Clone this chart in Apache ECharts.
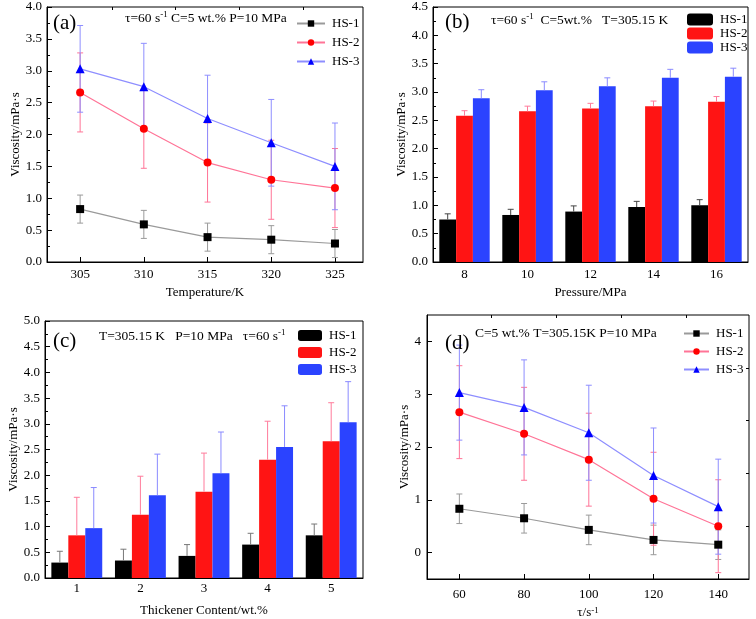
<!DOCTYPE html>
<html>
<head>
<meta charset="utf-8">
<script src="https://cdn.jsdelivr.net/npm/echarts@6/dist/echarts.min.js"></script>
<style>
  html, body { margin: 0; padding: 0; background: #fff; }
  #chart { width: 756px; height: 619px; }
</style>
</head>
<body>
<div id="chart"></div>
<script>
// (a) viscosity vs temperature
const tempK = [305, 310, 315, 320, 325];
const tempHS1 = [0.83, 0.59, 0.39, 0.35, 0.29];
const tempHS2 = [2.66, 2.09, 1.56, 1.29, 1.16];
const tempHS3 = [3.03, 2.75, 2.25, 1.87, 1.50];
const tempErr1 = [0.22, 0.22, 0.22, 0.22, 0.22];
const tempErr2 = [0.62, 0.62, 0.62, 0.62, 0.62];
const tempErr3 = [0.68, 0.68, 0.68, 0.68, 0.68];

// (b) viscosity vs pressure
const pressure = ["8", "10", "12", "14", "16"];
const presHS1 = [0.75, 0.83, 0.89, 0.97, 1.0];
const presHS2 = [2.58, 2.66, 2.71, 2.75, 2.83];
const presHS3 = [2.89, 3.03, 3.10, 3.25, 3.27];
const presErr1 = [0.1, 0.1, 0.1, 0.1, 0.1];
const presErr2 = [0.09, 0.09, 0.09, 0.09, 0.09];
const presErr3 = [0.15, 0.15, 0.15, 0.15, 0.15];

// (c) viscosity vs thickener content
const content = ["1", "2", "3", "4", "5"];
const contHS1 = [0.30, 0.34, 0.43, 0.65, 0.83];
const contHS2 = [0.83, 1.23, 1.68, 2.30, 2.66];
const contHS3 = [0.97, 1.61, 2.04, 2.55, 3.03];
const contErr1 = [0.22, 0.22, 0.22, 0.22, 0.22];
const contErr2 = [0.74, 0.75, 0.75, 0.75, 0.75];
const contErr3 = [0.79, 0.80, 0.80, 0.80, 0.79];

// (d) viscosity vs shear rate
const shear = [60, 80, 100, 120, 140];
const shearHS1 = [0.83, 0.65, 0.43, 0.24, 0.15];
const shearHS2 = [2.66, 2.25, 1.76, 1.02, 0.50];
const shearHS3 = [3.03, 2.75, 2.27, 1.46, 0.87];
const shearErr1 = [0.28, 0.28, 0.28, 0.28, 0.28];
const shearErr2 = [0.88, 0.88, 0.88, 0.88, 0.88];
const shearErr3 = [0.90, 0.90, 0.90, 0.90, 0.90];

const tempMinor = [307.5, 312.5, 317.5, 322.5];
const shearMinor = [70, 90, 110, 130];
const shearTicksY = [0, 1, 2, 3, 4];
const shearMinorY = [0.5, 1.5, 2.5, 3.5];

const FONT = "Liberation Serif";
const LINE_COLORS = ["#9a9a9a", "#ff7497", "#8e8eff"];
const MARK_COLORS = ["#000000", "#ff0000", "#0000ff"];
const BAR_COLORS = ["#000000", "#ff1414", "#2b43ff"];
const BAR_ERR_COLORS = ["#444444", "#ff7b9b", "#8a8aff"];
const SYMBOLS = ["rect", "circle", "triangle"];
const BAR_GAP = 0.2;

const chart = echarts.init(document.getElementById("chart"));

const txt = { fontFamily: FONT, fontSize: 13, color: "#000", fontWeight: "normal" };

function grid(left, top, width, height) {
  return {
    left, top, width, height,
    show: true, borderColor: "#000", borderWidth: 1,
    backgroundColor: "transparent",
    outerBoundsMode: "none",
  };
}

function valueAxisX(gridIndex, min, max, ticks, name, nameGap, labelMargin) {
  return {
    type: "value", gridIndex, min, max,
    name, nameLocation: "middle", nameGap,
    nameTextStyle: Object.assign({}, txt, { rich: { n: txt, s: { fontFamily: FONT, fontSize: 9, verticalAlign: "top", lineHeight: 10 } } }),
    axisLine: { onZero: false, lineStyle: { color: "#000", width: 1 } },
    axisTick: { inside: true, length: 5, customValues: ticks, lineStyle: { color: "#000" } },
    axisLabel: { customValues: ticks, margin: labelMargin, fontFamily: FONT, fontSize: 13, color: "#000" },
    splitLine: { show: false },
  };
}

function minorAxisX(gridIndex, min, max, ticks) {
  return {
    type: "value", gridIndex, min, max,
    axisLine: { show: false, onZero: false },
    axisTick: { inside: true, length: 3, customValues: ticks, lineStyle: { color: "#000" } },
    axisLabel: { show: false },
    splitLine: { show: false },
  };
}

function catAxisX(gridIndex, data, name, nameGap, labelMargin) {
  return {
    type: "category", gridIndex, data,
    name, nameLocation: "middle", nameGap, nameTextStyle: txt,
    axisLine: { onZero: false, lineStyle: { color: "#000", width: 1 } },
    axisTick: { inside: true, length: 5, alignWithLabel: true, lineStyle: { color: "#000" } },
    axisLabel: { margin: labelMargin, fontFamily: FONT, fontSize: 13, color: "#000" },
    splitLine: { show: false },
  };
}

function catMinorX(gridIndex, data) {
  return {
    type: "category", gridIndex, data,
    axisLine: { show: false, onZero: false },
    axisTick: { inside: true, length: 3, lineStyle: { color: "#000" } },
    axisLabel: { show: false },
    splitLine: { show: false },
  };
}

function valueAxisY(gridIndex, min, max, interval, nameGap, labelMargin) {
  return {
    type: "value", gridIndex, min, max, interval,
    name: "Viscosity/mPa·s", nameLocation: "middle", nameGap, nameTextStyle: txt,
    axisLine: { show: true, onZero: false, lineStyle: { color: "#000", width: 1 } },
    axisTick: { show: true, inside: true, length: 5, lineStyle: { color: "#000" } },
    minorTick: { show: true, splitNumber: 2, length: 3, lineStyle: { color: "#000" } },
    axisLabel: { margin: labelMargin, fontFamily: FONT, fontSize: 13, color: "#000", formatter: (v) => v.toFixed(1) },
    splitLine: { show: false },
  };
}

// error bars drawn through the axes' own coordinate mapping
function errorSeries(name, xAxisIndex, yAxisIndex, xs, ys, errs, color, barIndex, upOnly, z) {
  return {
    name, type: "custom", xAxisIndex, yAxisIndex, z: z || 1,
    encode: { x: 0, y: 1 },
    data: xs.map((x, i) => [x, ys[i], errs[i]]),
    renderItem(params, api) {
      const x = api.value(0);
      const y = api.value(1);
      const e = api.value(2);
      let dx = 0;
      if (barIndex != null) {
        const band = api.size([1, 0])[0];
        const bw = (band * (1 - BAR_GAP)) / 3;
        dx = (barIndex - 1) * bw;
      }
      const top = api.coord([x, y + e]);
      const bot = api.coord([x, upOnly ? y : y - e]);
      const cx = top[0] + dx;
      const half = 3;
      const style = { stroke: color, lineWidth: 1 };
      const children = [
        { type: "line", shape: { x1: cx, y1: top[1], x2: cx, y2: bot[1] }, style },
        { type: "line", shape: { x1: cx - half, y1: top[1], x2: cx + half, y2: top[1] }, style },
      ];
      if (!upOnly) {
        children.push({ type: "line", shape: { x1: cx - half, y1: bot[1], x2: cx + half, y2: bot[1] }, style });
      }
      return { type: "group", children };
    },
  };
}

function lineSeries(name, xAxisIndex, yAxisIndex, xs, ys, k) {
  return {
    name, type: "line", xAxisIndex, yAxisIndex, z: 3,
    data: xs.map((x, i) => [x, ys[i]]),
    symbol: SYMBOLS[k], symbolSize: k === 2 ? 9 : 8,
    lineStyle: { color: LINE_COLORS[k], width: 1.2 },
    itemStyle: { color: MARK_COLORS[k] },
  };
}

function barSeries(name, xAxisIndex, yAxisIndex, ys, k) {
  return {
    name, type: "bar", xAxisIndex, yAxisIndex, z: 2,
    data: ys, barGap: "0%", barCategoryGap: BAR_GAP * 100 + "%",
    itemStyle: { color: BAR_COLORS[k] },
  };
}

function legend(left, top, names, itemWidth, itemHeight, itemGap) {
  return {
    left, top, orient: "vertical", padding: 0,
    itemWidth, itemHeight, itemGap, selectedMode: false,
    data: names,
    formatter: (n) => n.slice(0, 4),
    textStyle: { fontFamily: FONT, fontSize: 13, color: "#000", padding: [0, 0, 0, 2] },
  };
}

const rich = {
  n: { fontFamily: FONT, fontSize: 13.5, fontWeight: "normal", color: "#000", lineHeight: 16 },
  s: { fontFamily: FONT, fontSize: 9, fontWeight: "normal", color: "#000", lineHeight: 10, verticalAlign: "top" },
  p: { fontFamily: FONT, fontSize: 21, fontWeight: "normal", color: "#000" },
};

function note(text, left, top) {
  return { text, left, top, padding: 0, textStyle: { fontWeight: "normal", rich } };
}

const namesA = ["HS-1", "HS-2", "HS-3"];
const namesB = ["HS-1 b", "HS-2 b", "HS-3 b"];
const namesC = ["HS-1 c", "HS-2 c", "HS-3 c"];
const namesD = ["HS-1 d", "HS-2 d", "HS-3 d"];

const option = {
  backgroundColor: "#fff",
  animation: false,
  title: [
    note("{p|(a)}", 53, 13),
    note("{n|τ=60 s}{s|-1}{n| C=5 wt.% P=10 MPa}", 125, 10),
    note("{p|(b)}", 445, 12),
    note("{n|τ=60 s}{s|-1}{n|  C=5wt.%   T=305.15 K}", 491, 12),
    note("{p|(c)}", 53, 331),
    note("{n|T=305.15 K   P=10 MPa   τ=60 s}{s|-1}", 99, 328),
    note("{p|(d)}", 445, 333),
    note("{n|C=5 wt.% T=305.15K P=10 MPa}", 475, 325),
  ],
  legend: [
    legend(296, 17, namesA, 28, 8, 6),
    legend(687, 13, namesB, 26, 12, 1),
    legend(298, 329, namesC, 24, 11, 4),
    legend(683, 327, namesD, 25, 8, 5),
  ],
  grid: [
    grid(47, 7, 316, 255),
    grid(433, 7, 315, 255),
    grid(45, 321, 318, 257),
    grid(427, 315, 322, 264),
  ],
  xAxis: [
    valueAxisX(0, 302.4, 327.2, tempK, "Temperature/K", 24, 6),
    minorAxisX(0, 302.4, 327.2, tempMinor),
    catAxisX(1, pressure, "Pressure/MPa", 24, 6),
    catMinorX(1, pressure),
    catAxisX(2, content, "Thickener Content/wt.%", 26, 4),
    catMinorX(2, content),
    valueAxisX(3, 50, 149.5, shear, "{n|τ/s}{s|-1}", 27, 9),
    minorAxisX(3, 50, 149.5, shearMinor),
  ],
  yAxis: [
    valueAxisY(0, 0, 4, 0.5, 19, 5),
    valueAxisY(1, 0, 4.5, 0.5, 19, 5),
    valueAxisY(2, 0, 5, 0.5, 23, 5),
    Object.assign(valueAxisY(3, -0.5, 4.5, 0.5, 12, 6), {
      axisTick: { show: true, inside: true, length: 5, customValues: shearTicksY, lineStyle: { color: "#000" } },
      minorTick: { show: false },
      axisLabel: { customValues: shearTicksY, margin: 6, fontFamily: FONT, fontSize: 13, color: "#000", formatter: (v) => String(v) },
    }),
    {
      type: "value", gridIndex: 3, min: -0.5, max: 4.5,
      axisLine: { show: false, onZero: false },
      axisTick: { show: true, inside: true, length: 3, customValues: shearMinorY, lineStyle: { color: "#000" } },
      axisLabel: { show: false },
      splitLine: { show: false },
    },
  ],
  series: [
    // (a)
    errorSeries("errA1", 0, 0, tempK, tempHS1, tempErr1, LINE_COLORS[0]),
    errorSeries("errA2", 0, 0, tempK, tempHS2, tempErr2, LINE_COLORS[1]),
    errorSeries("errA3", 0, 0, tempK, tempHS3, tempErr3, LINE_COLORS[2]),
    lineSeries(namesA[0], 0, 0, tempK, tempHS1, 0),
    lineSeries(namesA[1], 0, 0, tempK, tempHS2, 1),
    lineSeries(namesA[2], 0, 0, tempK, tempHS3, 2),
    // (b)
    barSeries(namesB[0], 2, 1, presHS1, 0),
    barSeries(namesB[1], 2, 1, presHS2, 1),
    barSeries(namesB[2], 2, 1, presHS3, 2),
    errorSeries("errB1", 2, 1, pressure, presHS1, presErr1, BAR_ERR_COLORS[0], 0, true, 3),
    errorSeries("errB2", 2, 1, pressure, presHS2, presErr2, BAR_ERR_COLORS[1], 1, true, 3),
    errorSeries("errB3", 2, 1, pressure, presHS3, presErr3, BAR_ERR_COLORS[2], 2, true, 3),
    // (c)
    barSeries(namesC[0], 4, 2, contHS1, 0),
    barSeries(namesC[1], 4, 2, contHS2, 1),
    barSeries(namesC[2], 4, 2, contHS3, 2),
    errorSeries("errC1", 4, 2, content, contHS1, contErr1, "#777777", 0, true, 3),
    errorSeries("errC2", 4, 2, content, contHS2, contErr2, BAR_ERR_COLORS[1], 1, true, 3),
    errorSeries("errC3", 4, 2, content, contHS3, contErr3, BAR_ERR_COLORS[2], 2, true, 3),
    // (d)
    errorSeries("errD1", 6, 3, shear, shearHS1, shearErr1, LINE_COLORS[0]),
    errorSeries("errD2", 6, 3, shear, shearHS2, shearErr2, LINE_COLORS[1]),
    errorSeries("errD3", 6, 3, shear, shearHS3, shearErr3, LINE_COLORS[2]),
    lineSeries(namesD[0], 6, 3, shear, shearHS1, 0),
    lineSeries(namesD[1], 6, 3, shear, shearHS2, 1),
    lineSeries(namesD[2], 6, 3, shear, shearHS3, 2),
  ],
};

chart.setOption(option);
</script>
</body>
</html>
